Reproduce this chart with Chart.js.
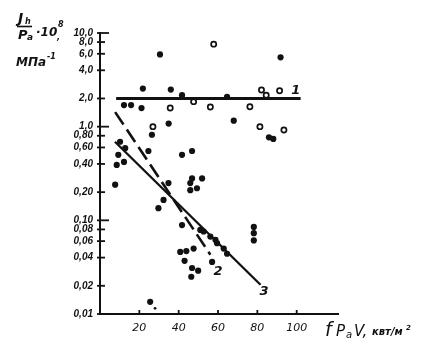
<!DOCTYPE html>
<html><head><meta charset="utf-8">
<script src="https://cdn.jsdelivr.net/npm/chart.js@4"></script>
<style>html,body{margin:0;padding:0;background:#fff}#wrap{width:425px;height:357px}</style>
</head><body><div id="wrap"><canvas id="c" width="425" height="357"></canvas></div>
<script>
// ---- data ----
const filledX=[30.5,21.8,36.0,41.7,12.2,15.8,21.1,91.8,64.6,68.0,85.9,88.1,34.9,26.4,24.6,41.7,46.8,10.2,12.8,9.3,8.5,12.2,7.7,34.8,46.8,45.9,45.9,49.3,51.9,32.3,29.7,41.7,51.0,52.7,56.1,58.7,59.5,62.9,64.6,40.8,43.9,47.6,43.0,46.8,49.9,46.4,57.0,78.2,78.2,78.2,25.5];
const filledY=[5.9,2.55,2.49,2.17,1.70,1.70,1.58,5.5,2.08,1.16,0.77,0.74,1.08,0.82,0.55,0.50,0.55,0.69,0.59,0.50,0.39,0.42,0.24,0.25,0.28,0.25,0.21,0.22,0.28,0.165,0.135,0.089,0.079,0.076,0.067,0.062,0.057,0.050,0.044,0.046,0.047,0.050,0.037,0.031,0.029,0.025,0.036,0.085,0.073,0.061,0.0135];
const tinyX=[28.0];
const tinyY=[0.0115];
const openX=[57.8,47.6,35.7,56.1,82.1,84.5,91.3,76.2,81.3,93.5,26.9];
const openY=[7.6,1.85,1.58,1.62,2.46,2.17,2.42,1.63,1.0,0.92,1.0];
const line1X=[8.2,102];
const line1Y=[2.0,2.0];
const line2X=[7.7,56.1];
const line2Y=[1.43,0.043];
const line3X=[7.6,81.6];
const line3Y=[0.69,0.0205];
const curveNames=['1','2','3'];
const curveLabelX=[99.5,60,83.4];
const curveLabelY=[2.45,0.028,0.0172];
const yTickValues=[10,8,6,4,2,1,0.8,0.6,0.4,0.2,0.1,0.08,0.06,0.04,0.02,0.01];
const yTickLabels=['10,0','8,0','6,0','4,0','2,0','1,0','0,80','0,60','0,40','0,20','0,10','0,08','0,06','0,04','0,02','0,01'];
const xTickValues=[20,40,60,80,100];
const xTickLabels=['20','40','60','80','100'];

const INK='#111';
const toPts=(xs,ys)=>xs.map((x,i)=>({x:x,y:ys[i]}));

const inkPlugin={
  id:'ink',
  afterDraw(chart){
    const ctx=chart.ctx, xs=chart.scales.x, ys=chart.scales.y;
    const L=chart.chartArea.left, B=chart.chartArea.bottom;
    ctx.save();
    ctx.strokeStyle=INK; ctx.lineWidth=1.8;
    yTickValues.forEach(v=>{
      const p=ys.getPixelForValue(v);
      const dec=Math.abs(Math.log10(v)-Math.round(Math.log10(v)))<1e-6;
      ctx.beginPath(); ctx.moveTo(L-3,p); ctx.lineTo(L+(dec?9:5),p); ctx.stroke();
    });
    xTickValues.forEach(v=>{
      const p=xs.getPixelForValue(v);
      ctx.beginPath(); ctx.moveTo(p,B); ctx.lineTo(p,B-4); ctx.stroke();
    });
    ctx.fillStyle=INK;
    ctx.font='bold italic 13px "DejaVu Sans"';
    ctx.textAlign='center'; ctx.textBaseline='middle';
    curveNames.forEach((n,i)=>{
      ctx.fillText(n, xs.getPixelForValue(curveLabelX[i]), ys.getPixelForValue(curveLabelY[i]));
    });
    ctx.textAlign='left'; ctx.textBaseline='alphabetic';
    ctx.font='bold italic 14px "DejaVu Sans"';
    ctx.fillText('J',18,23);
    ctx.font='bold italic 8px "DejaVu Sans"';
    ctx.fillText('h',25,24);
    ctx.lineWidth=1.6;
    ctx.beginPath(); ctx.moveTo(17,26.5); ctx.lineTo(32,26.5); ctx.stroke();
    ctx.font='bold italic 13px "DejaVu Sans"';
    ctx.fillText('P',18,39);
    ctx.font='bold italic 9px "DejaVu Sans"';
    ctx.fillText('a',27,40);
    ctx.font='bold italic 12px "DejaVu Sans"';
    ctx.fillText('·10',36,36);
    ctx.font='bold italic 8px "DejaVu Sans"';
    ctx.fillText('8',58,27);
    ctx.fillText(',',57,40);
    ctx.font='bold italic 12px "DejaVu Sans"';
    ctx.fillText('МПа',16,66);
    ctx.font='bold italic 8px "DejaVu Sans"';
    ctx.fillText('-1',47,59);
    ctx.font='italic 19px "DejaVu Sans"';
    ctx.fillText('f',325,336);
    ctx.font='italic 15px "DejaVu Sans"';
    ctx.fillText('P',336,336);
    ctx.font='italic 10px "DejaVu Sans"';
    ctx.fillText('a',346,338);
    ctx.font='italic 15px "DejaVu Sans"';
    ctx.fillText('V,',354,336);
    ctx.font='bold italic 10px "DejaVu Sans"';
    ctx.fillText('квт/м',372,335);
    ctx.font='bold italic 7px "DejaVu Sans"';
    ctx.fillText('2',406,330);
    ctx.restore();
  }
};

new Chart(document.getElementById('c'),{
  type:'scatter',
  data:{datasets:[
    {data:toPts(line1X,line1Y),showLine:true,borderColor:INK,borderWidth:3,pointRadius:0},
    {data:toPts(line2X,line2Y),showLine:true,borderColor:INK,borderWidth:2.6,borderDash:[15,6],pointRadius:0},
    {data:toPts(line3X,line3Y),showLine:true,borderColor:INK,borderWidth:2.3,pointRadius:0},
    {data:toPts(filledX,filledY),pointRadius:3.1,pointBackgroundColor:INK,pointBorderColor:INK,pointBorderWidth:0},
    {data:toPts(tinyX,tinyY),pointRadius:1.4,pointBackgroundColor:INK,pointBorderColor:INK,pointBorderWidth:0},
    {data:toPts(openX,openY),pointRadius:2.6,pointBackgroundColor:'#fff',pointBorderColor:INK,pointBorderWidth:1.7}
  ]},
  options:{
    responsive:false, animation:false, devicePixelRatio:1,
    layout:{padding:{top:33,right:87,left:0,bottom:0}},
    plugins:{legend:{display:false},tooltip:{enabled:false}},
    scales:{
      x:{type:'linear',min:0,max:121,
        afterBuildTicks:s=>{s.ticks=xTickValues.map(v=>({value:v}));},
        afterFit:s=>{s.height=43;},
        grid:{display:true,drawOnChartArea:false,drawTicks:false},
        border:{display:true,color:INK,width:2},
        ticks:{autoSkip:false,maxRotation:0,padding:8,color:INK,
          font:{family:'"DejaVu Sans"',style:'italic',size:11},
          callback:v=>xTickLabels[xTickValues.indexOf(v)]}
      },
      y:{type:'logarithmic',min:0.01,max:10,
        afterBuildTicks:s=>{s.ticks=yTickValues.map(v=>({value:v}));},
        afterFit:s=>{s.width=100;},
        grid:{display:true,drawOnChartArea:false,drawTicks:false},
        border:{display:true,color:INK,width:2},
        ticks:{autoSkip:false,padding:7,color:INK,
          font:{family:'"Liberation Sans Narrow","Liberation Sans"',style:'italic',weight:'bold',size:10},
          callback:v=>yTickLabels[yTickValues.indexOf(v)]}
      }
    }
  },
  plugins:[inkPlugin]
});
</script>
</body></html>
